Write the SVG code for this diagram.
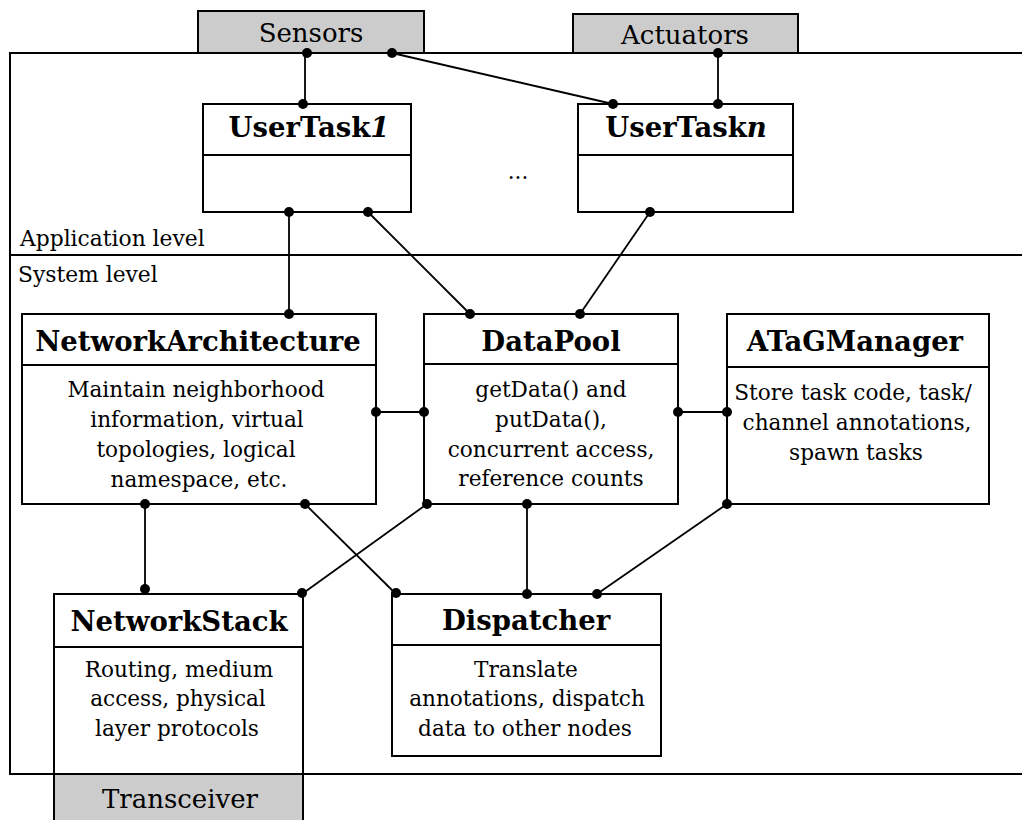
<svg xmlns="http://www.w3.org/2000/svg" width="1022" height="820" viewBox="0 0 1022 820">
  <style>
    .box { fill: #ffffff; stroke: #000000; stroke-width: 2; }
    .ext { fill: #cccccc; stroke: #000000; stroke-width: 2; }
    .frame { fill: none; stroke: #000000; stroke-width: 2; }
    .div { stroke: #000000; stroke-width: 2; }
    .wire { fill: none; stroke: #000000; stroke-width: 1.8; }
    .dot { fill: #000000; }
    text { font-family: "DejaVu Serif", "Liberation Serif", serif; fill: #000000; }
    .title { font-size: 27.5px; font-weight: bold; text-anchor: middle; }
    .body { font-size: 21.6px; text-anchor: middle; }
    .label { font-size: 21.8px; }
    .ext-label { font-size: 26px; text-anchor: middle; }
  </style>

  <rect width="1022" height="820" fill="#ffffff"/>

  <!-- node frame: application level above, system level below -->
  <g id="frame">
    <path class="frame" d="M1030,53 H10 V774 H1030"/>
    <line class="div" x1="10" y1="255" x2="1030" y2="255"/>
    <text class="label" x="20" y="246">Application level</text>
    <text class="label" x="18" y="282">System level</text>
  </g>

  <!-- external devices -->
  <g id="sensors">
    <rect class="ext" x="198" y="11" width="226" height="42"/>
    <text class="ext-label" x="311" y="42">Sensors</text>
  </g>
  <g id="actuators">
    <rect class="ext" x="573" y="14" width="225" height="39"/>
    <text class="ext-label" x="685" y="44">Actuators</text>
  </g>
  <g id="transceiver">
    <rect class="ext" x="54" y="774" width="249" height="50"/>
    <text class="ext-label" x="180" y="808">Transceiver</text>
  </g>

  <!-- application tasks -->
  <g id="usertask1">
    <rect class="box" x="203" y="104" width="208" height="108"/>
    <line class="div" x1="203" y1="155" x2="411" y2="155"/>
    <text class="title" x="309" y="137">UserTask<tspan font-style="italic">1</tspan></text>
  </g>
  <g id="usertaskn">
    <rect class="box" x="578" y="104" width="215" height="108"/>
    <line class="div" x1="578" y1="155" x2="793" y2="155"/>
    <text class="title" x="686" y="137">UserTask<tspan font-style="italic">n</tspan></text>
  </g>
  <g id="ellipsis">
    <text class="body" x="518" y="179" font-size="16">...</text>
  </g>

  <!-- system components -->
  <g id="networkarchitecture">
    <rect class="box" x="22" y="314" width="354" height="190"/>
    <line class="div" x1="22" y1="365" x2="376" y2="365"/>
    <text class="title" x="198" y="351">NetworkArchitecture</text>
    <text class="body" x="196" y="397">Maintain neighborhood</text>
    <text class="body" x="197" y="427">information, virtual</text>
    <text class="body" x="196" y="457">topologies, logical</text>
    <text class="body" x="199" y="487">namespace, etc.</text>
  </g>
  <g id="datapool">
    <rect class="box" x="424" y="314" width="254" height="190"/>
    <line class="div" x1="424" y1="364" x2="678" y2="364"/>
    <text class="title" x="551" y="351">DataPool</text>
    <text class="body" x="551" y="397">getData() and</text>
    <text class="body" x="551" y="427">putData(),</text>
    <text class="body" x="551" y="457">concurrent access,</text>
    <text class="body" x="551" y="486">reference counts</text>
  </g>
  <g id="atagmanager">
    <rect class="box" x="727" y="314" width="262" height="190"/>
    <line class="div" x1="727" y1="367" x2="989" y2="367"/>
    <text class="title" x="855" y="351">ATaGManager</text>
    <text class="body" x="853" y="400">Store task code, task/</text>
    <text class="body" x="857" y="430">channel annotations,</text>
    <text class="body" x="856" y="460">spawn tasks</text>
  </g>
  <g id="networkstack">
    <rect class="box" x="54" y="594" width="249" height="180"/>
    <line class="div" x1="54" y1="647" x2="303" y2="647"/>
    <text class="title" x="179" y="631">NetworkStack</text>
    <text class="body" x="179" y="677">Routing, medium</text>
    <text class="body" x="178" y="706">access, physical</text>
    <text class="body" x="177" y="736">layer protocols</text>
  </g>
  <g id="dispatcher">
    <rect class="box" x="392" y="594" width="269" height="162"/>
    <line class="div" x1="392" y1="645" x2="661" y2="645"/>
    <text class="title" x="526" y="630">Dispatcher</text>
    <text class="body" x="526" y="677">Translate</text>
    <text class="body" x="527" y="706">annotations, dispatch</text>
    <text class="body" x="525" y="736">data to other nodes</text>
  </g>

  <!-- connectors with dot terminals -->
  <g id="connectors">
    <line class="wire" x1="305" y1="53" x2="305" y2="104"/>
    <line class="wire" x1="392" y1="53" x2="613" y2="104"/>
    <line class="wire" x1="718" y1="53" x2="718" y2="104"/>
    <line class="wire" x1="289" y1="212" x2="289" y2="314"/>
    <line class="wire" x1="368" y1="212" x2="470" y2="314"/>
    <line class="wire" x1="650" y1="212" x2="580" y2="314"/>
    <line class="wire" x1="376" y1="412" x2="424" y2="412"/>
    <line class="wire" x1="678" y1="412" x2="727" y2="412"/>
    <line class="wire" x1="145" y1="504" x2="145" y2="589"/>
    <line class="wire" x1="305" y1="504" x2="396" y2="594"/>
    <line class="wire" x1="427" y1="504" x2="302" y2="594"/>
    <line class="wire" x1="527" y1="504" x2="527" y2="594"/>
    <line class="wire" x1="727" y1="504" x2="597" y2="594"/>

    <circle class="dot" cx="307" cy="53" r="5"/>
    <circle class="dot" cx="303" cy="104" r="5"/>
    <circle class="dot" cx="392" cy="53" r="5"/>
    <circle class="dot" cx="613" cy="104" r="5"/>
    <circle class="dot" cx="718" cy="53" r="5"/>
    <circle class="dot" cx="718" cy="104" r="5"/>
    <circle class="dot" cx="289" cy="212" r="5"/>
    <circle class="dot" cx="289" cy="314" r="5"/>
    <circle class="dot" cx="368" cy="212" r="5"/>
    <circle class="dot" cx="470" cy="314" r="5"/>
    <circle class="dot" cx="650" cy="212" r="5"/>
    <circle class="dot" cx="580" cy="314" r="5"/>
    <circle class="dot" cx="376" cy="412" r="5"/>
    <circle class="dot" cx="424" cy="412" r="5"/>
    <circle class="dot" cx="678" cy="412" r="5"/>
    <circle class="dot" cx="727" cy="412" r="5"/>
    <circle class="dot" cx="145" cy="504" r="5"/>
    <circle class="dot" cx="145" cy="589" r="5"/>
    <circle class="dot" cx="305" cy="504" r="5"/>
    <circle class="dot" cx="396" cy="593" r="5"/>
    <circle class="dot" cx="427" cy="504" r="5"/>
    <circle class="dot" cx="302" cy="593" r="5"/>
    <circle class="dot" cx="527" cy="504" r="5"/>
    <circle class="dot" cx="527" cy="594" r="5"/>
    <circle class="dot" cx="727" cy="504" r="5"/>
    <circle class="dot" cx="597" cy="594" r="5"/>
  </g>
</svg>
